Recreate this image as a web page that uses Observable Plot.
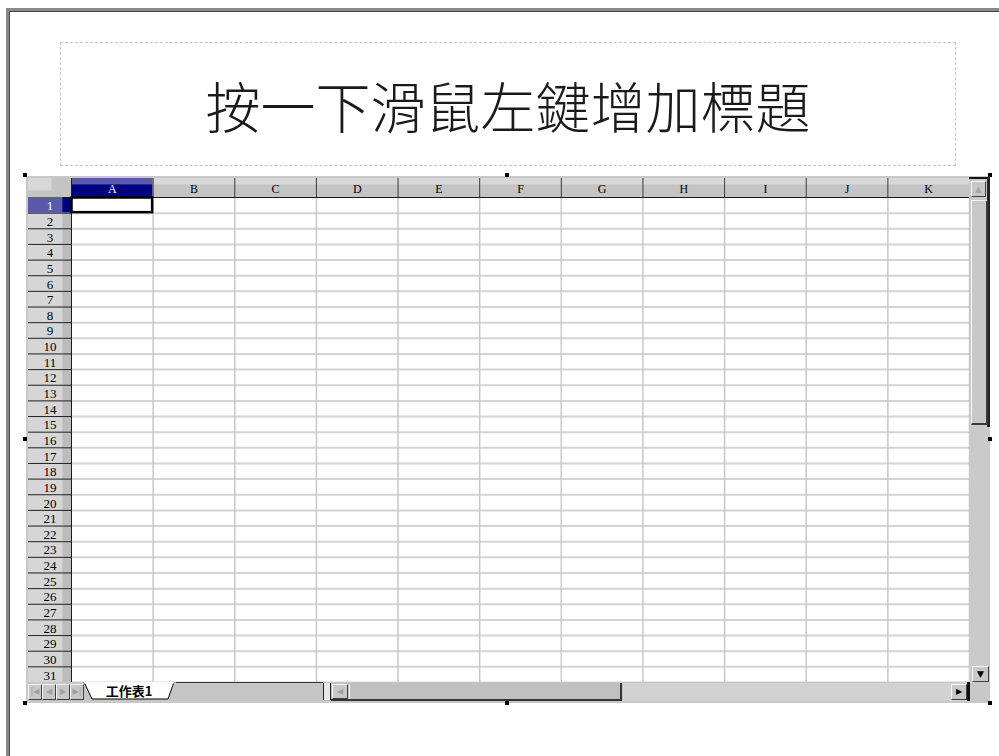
<!DOCTYPE html>
<html>
<head>
<meta charset="utf-8">
<script src="https://cdn.jsdelivr.net/npm/d3@7"></script>
<script src="https://cdn.jsdelivr.net/npm/@observablehq/plot@0.6"></script>
<style>
  html, body { margin: 0; padding: 0; background: #fff; }
  body { width: 999px; height: 756px; position: relative; overflow: hidden; }
  .abs { position: absolute; box-sizing: border-box; }
  #frame { left: 6px; top: 8px; width: 1200px; height: 900px;
           border-left: 3px solid #8a8a8a; border-top: 3px solid #8a8a8a;
           box-shadow: inset 1px 1px 0 #4a4a4a; }
  #title { left: 60px; top: 42px; width: 896px; height: 124px;
           border: 1px dashed #c4c4c4; text-align: center; line-height: 122px;
           font-family: "Noto Sans CJK TC", sans-serif; font-weight: 300;
           font-size: 55px; color: #1a1a1a; white-space: nowrap; }
  #obj { left: 26px; top: 176px; width: 964px; height: 527px; background: #c8c8c8; }
  #sheet { left: 26px; top: 176px; }
  .handle { width: 4px; height: 4px; background: #000; }
  .btn { background: #c8c8c8; border-top: 1px solid #f4f4f4; border-left: 1px solid #f4f4f4;
         border-right: 1px solid #404040; border-bottom: 1px solid #404040; }
  .glyph { font: 9px "DejaVu Sans", sans-serif; text-align: center; }
</style>
</head>
<body>
<script>
// ---- data ----
const titleText = "按一下滑鼠左鍵增加標題";
const columns = ["A", "B", "C", "D", "E", "F", "G", "H", "I", "J", "K"];
const rows = [1, 2, 3, 4, 5, 6, 7, 8, 9, 10, 11, 12, 13, 14, 15, 16, 17, 18, 19, 20,
              21, 22, 23, 24, 25, 26, 27, 28, 29, 30, 31];
const sheetTabs = ["工作表1"];
const selectedColumn = "A";
const selectedRow = 1;

// ---- page chrome ----
function box(cls, id, css, html) {
  const d = document.createElement("div");
  d.className = "abs " + (cls || "");
  if (id) d.id = id;
  if (css) d.style.cssText = css;
  if (html) d.innerHTML = html;
  document.body.appendChild(d);
  return d;
}
box("", "frame");
const t = box("", "title");
t.textContent = titleText;
box("", "obj");

// ---- spreadsheet grid with Plot ----
const colData = columns.map((c, i) => ({label: c, i, sel: c === selectedColumn}));
const rowData = rows.map(r => ({r, sel: r === selectedRow}));
const nC = columns.length, nR = rows.length;
const serif = "'Liberation Serif', 'DejaVu Serif', serif";

const chart = Plot.plot({
  width: 964, height: 527, margin: 0,
  x: {type: "linear", domain: [-1, 0, nC], range: [2, 45, 943], axis: null},
  y: {type: "linear", domain: [-1, 0, nR], range: [2, 21, 506], axis: null},
  style: {background: "transparent", overflow: "visible"},
  marks: [
    // cell area
    Plot.rect([{}], {x1: 0, x2: nC, y1: 0, y2: nR, fill: "#ffffff"}),
    // horizontal grid lines
    Plot.ruleY(rowData, {y: d => d.r, x1: 0, x2: nC, stroke: "#d4d4d4", strokeWidth: 2}),
    // vertical grid lines
    Plot.ruleX(colData, {x: d => d.i + 1, y1: 0, y2: nR, stroke: "#c8c8c8", strokeWidth: 1.5}),
    // corner cell
    Plot.rect([{}], {x1: -1, x2: 0, y1: -1, y2: 0, fill: "#c4c4c4"}),
    Plot.rect([{}], {x1: -1, x2: -0.45, y1: -1, y2: -0.35, fill: "#d8d8d8"}),
    // column headers
    Plot.rect(colData, {x1: d => d.i, x2: d => d.i + 1, y1: -1, y2: 0,
      fill: d => d.sel ? "#000080" : "#c4c4c4"}),
    Plot.rect(colData, {x1: d => d.i, x2: d => d.i + 1, y1: -1, y2: -0.66,
      fill: d => d.sel ? "#5a5aaa" : "#d8d8d8"}),
    Plot.ruleX(colData, {x: d => d.i + 1, y1: -1, y2: 0, stroke: "#3a3a3a", strokeWidth: 1}),
    Plot.ruleY([0], {x1: -1, x2: nC, stroke: "#1a1a1a", strokeWidth: 1}),
    Plot.text(colData, {x: d => d.i + 0.5, y: -0.45, text: "label",
      fill: d => d.sel ? "#ffffff" : "#000000", fontWeight: d => d.sel ? "bold" : "normal",
      fontFamily: serif, fontSize: 12}),
    // row headers
    Plot.rect(rowData, {x1: -1, x2: 0, y1: d => d.r - 1, y2: d => d.r,
      fill: d => d.sel ? "#000080" : "#bcbcbc"}),
    Plot.rect(rowData, {x1: -1, x2: -0.2, y1: d => d.r - 1, y2: d => d.r,
      fill: d => d.sel ? "#5a5aaa" : "#d6d6d6"}),
    Plot.ruleY(rowData, {y: d => d.r, x1: -1, x2: 0, stroke: "#202020", strokeWidth: 1}),
    Plot.ruleX([0], {y1: -1, y2: nR, stroke: "#1a1a1a", strokeWidth: 1}),
    Plot.text(rowData, {x: -0.5, y: d => d.r - 0.45, text: d => String(d.r),
      fill: d => d.sel ? "#ffffff" : "#000000", fontWeight: d => d.sel ? "bold" : "normal",
      fontFamily: serif, fontSize: 13}),
    // active cell
    Plot.rect([{col: selectedColumn, row: selectedRow}], {
      x1: d => columns.indexOf(d.col), x2: d => columns.indexOf(d.col) + 1,
      y1: d => d.row - 1, y2: d => d.row,
      fill: "none", stroke: "#000000", strokeWidth: 2.5, inset: 0.5})
  ]
});
chart.classList.add("abs");
chart.id = "sheet";
chart.style.position = "absolute";
chart.style.left = "26px";
chart.style.top = "176px";
document.body.appendChild(chart);

// ---- scrollbars & tab bar (chrome) ----
// vertical scrollbar
box("", "", "left:969px;top:178px;width:20px;height:504px;background:#cacaca;");
box("", "", "left:969px;top:177px;width:21px;height:2px;background:#111;");
box("", "", "left:987px;top:177px;width:3px;height:250px;background:#222;");
box("btn glyph", "", "left:971px;top:181px;width:15px;height:16px;line-height:14px;color:#a8a8a8;", "▲");
box("btn", "", "left:971px;top:200px;width:17px;height:225px;border-right:2px solid #3a3a3a;border-bottom:2px solid #3a3a3a;");
box("btn glyph", "", "left:972px;top:666px;width:17px;height:16px;line-height:14px;color:#000;", "▼");
// bottom bar
box("", "", "left:28px;top:682px;width:941px;height:19px;background:#c6c6c6;");
const navGlyphs = ["|◀", "◀", "▶", "▶|"];
navGlyphs.forEach((g, k) => {
  box("btn glyph", "", `left:${28 + k * 14}px;top:684px;width:14px;height:16px;line-height:14px;color:#a0a0a0;font-size:8px;`, g);
});
// sheet tab
sheetTabs.forEach(name => {
  box("", "", "left:82px;top:682px;width:94px;height:19px;",
    `<svg width="94" height="19" style="display:block">
       <polygon points="2,0 92,0 86,17 10,17" fill="#ffffff" stroke="#000" stroke-width="1"/>
       <line x1="2" y1="0.5" x2="92" y2="0.5" stroke="#fff" stroke-width="2"/>
       <text x="47" y="13.5" text-anchor="middle" font-family="'Noto Sans CJK TC', sans-serif" font-weight="bold" font-size="13">${name}</text>
     </svg>`);
});
box("", "", "left:176px;top:682px;width:147px;height:1px;background:#333;");
// horizontal scrollbar
box("", "", "left:323px;top:683px;width:8px;height:17px;background:#e8e8e8;border-left:1px solid #222;border-right:1px solid #222;");
box("", "", "left:331px;top:683px;width:291px;height:18px;background:#c0c0c0;border-bottom:2px solid #333;border-right:2px solid #333;");
box("btn glyph", "", "left:332px;top:684px;width:16px;height:15px;line-height:13px;color:#a0a0a0;font-size:8px;", "◀");
box("", "", "left:349px;top:684px;width:1px;height:15px;background:#f0f0f0;");
box("", "", "left:623px;top:683px;width:346px;height:18px;background:#d2d2d2;");
box("btn glyph", "", "left:951px;top:684px;width:16px;height:16px;line-height:14px;color:#000;font-size:8px;", "▶");
box("", "", "left:967px;top:682px;width:3px;height:19px;background:#111;");

// selection handles
[[23,173],[505,173],[988,173],[23,437],[988,437],[23,701],[505,701],[988,701]].forEach(([x, y]) => {
  box("handle", "", `left:${x}px;top:${y}px;`);
});
</script>
</body>
</html>
